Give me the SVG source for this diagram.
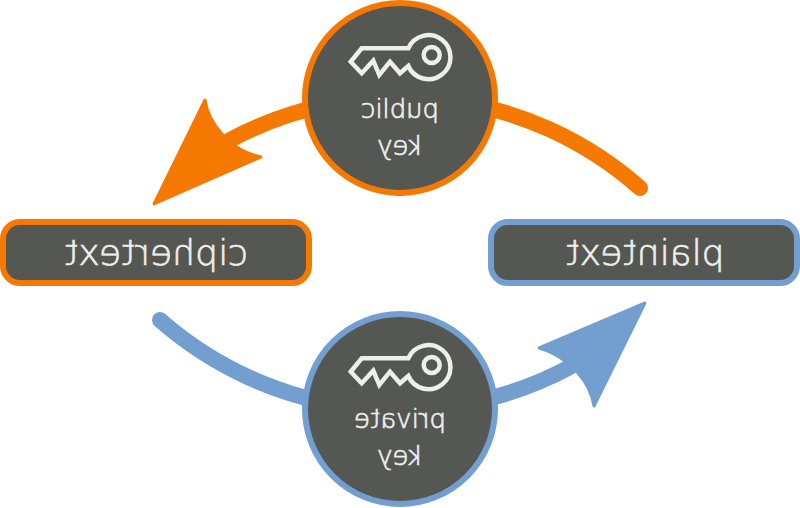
<svg xmlns="http://www.w3.org/2000/svg" width="800" height="508" viewBox="0 0 800 508">
<style>
.o{stroke:#f57900}.b{stroke:#729fcf}
.node{fill:#555753;stroke-width:6}
.shaft{fill:none;stroke-width:16;stroke-linecap:round}
.head{stroke-width:3;stroke-linejoin:round}
.key{fill:none;stroke:#eeeeec;stroke-width:4.5;stroke-linejoin:miter}
text{font-family:"DejaVu Sans",sans-serif;font-weight:200;fill:#eeeeec;stroke:#eeeeec;stroke-width:.7;text-anchor:middle}
.t1{font-size:36px}.t2{font-size:26px}
</style>
<defs>
<g id="keyicon">
<path class="key" d="M350.7 61.7L361.7 48.3H408.3A22 22 0 1 1 408.3 66L400 73.3L390 61.7L379.3 75L373.3 60.7L361.7 73.3Z"/>
<circle class="key" cx="431.7" cy="55" r="8"/>
</g>
</defs>
<g id="connectors">
<path class="shaft o" d="M640 188A361 361 0 0 0 230 140"/>
<path class="head o" fill="#f57900" d="M154 204L205 100Q208 119 222 134L235 146Q247 154 261 157Z"/>
<path class="shaft b" d="M160 320A362 362 0 0 0 570 367"/>
<path class="head b" fill="#729fcf" d="M645 303L594 406Q591 388 578 373L565 361Q553 352 539 348Z"/>
</g>
<g id="public-key">
<circle class="node o" cx="400" cy="98" r="95"/>
<use href="#keyicon"/>
<text class="t2" transform="translate(400,118) scale(-1,1)">public</text>
<text class="t2" transform="translate(400,155) scale(-1,1)">key</text>
</g>
<g id="private-key">
<circle class="node b" cx="400" cy="409" r="95"/>
<use href="#keyicon" y="310"/>
<text class="t2" transform="translate(400,428) scale(-1,1)">private</text>
<text class="t2" transform="translate(400,465) scale(-1,1)">key</text>
</g>
<g id="ciphertext">
<rect class="node o" x="3" y="222" width="306" height="61" rx="17"/>
<text class="t1" transform="translate(156,265) scale(-1,1)">ciphertext</text>
</g>
<g id="plaintext">
<rect class="node b" x="491" y="222" width="306" height="61" rx="17"/>
<text class="t1" transform="translate(645,265) scale(-1,1)">plaintext</text>
</g>
</svg>
